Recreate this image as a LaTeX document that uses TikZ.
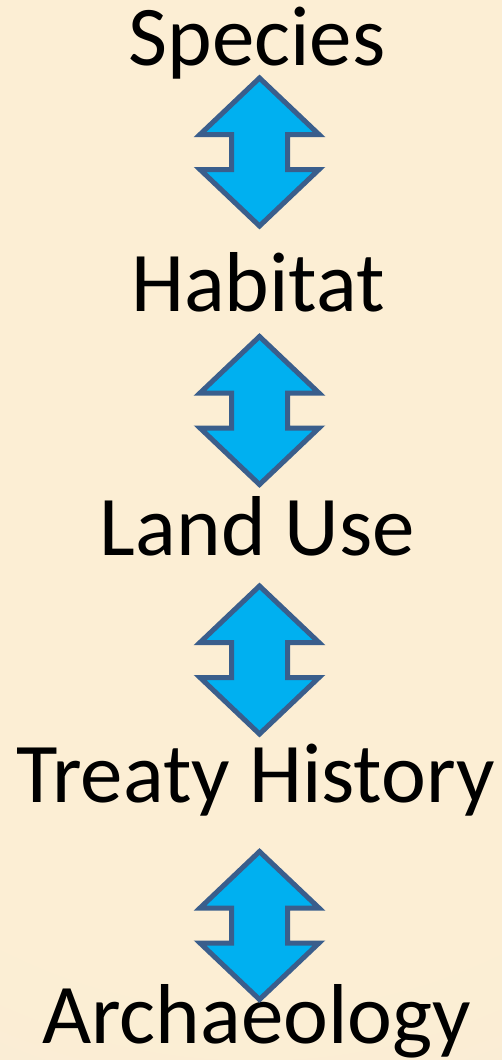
\documentclass[tikz,border=0pt]{standalone}
\usepackage{fontspec}
\setmainfont{Carlito}
\definecolor{bginner}{HTML}{FCEED4}
\definecolor{bgouter}{HTML}{F1E9D8}
\definecolor{arrowfill}{HTML}{00B0F0}
\definecolor{arrowline}{HTML}{3A5E8C}
\pgfdeclareradialshading{bgshade}{\pgfpoint{0bp}{0bp}}{color(0bp)=(bginner); color(18bp)=(bginner); color(50bp)=(bgouter)}
\tikzset{
  label/.style={anchor=base, inner sep=0pt, font=\fontsize{85pt}{92pt}\selectfont, text=black},
  updown/.style={fill=arrowfill, draw=arrowline, line width=5pt, line join=miter}
}
\begin{document}
\begin{tikzpicture}[x=1pt,y=-1pt]
\useasboundingbox (0,0) rectangle (502,1060);
\fill[bgouter] (0,0) rectangle (502,1060);
\begin{scope}
\clip (0,0) rectangle (502,1060);
\shade[shading=bgshade] (255,450) circle[radius=720];
\end{scope}
% labels
\node[label] (species) at (257,65) {Species};
\node[label] (habitat) at (258,311) {Habitat};
\node[label] (landuse) at (257.5,555) {Land Use};
\node[label] (treaty) at (255.5,802) {Treaty History};
\node[label] (arch) at (256.5,1043) {Archaeology};
% arrow centres
\coordinate (a1) at (259.5,152);
\coordinate (a2) at (259.5,410.5);
\coordinate (a3) at (259.5,660);
\coordinate (a4) at (259.5,925.5);
\foreach \c in {a1,a2,a3,a4}{
  \draw[updown, shift={(\c)}] (0,-74) -- (59.5,-17.5) -- (28,-17.5) -- (28,17.5) -- (59.5,17.5)
     -- (0,74) -- (-59.5,17.5) -- (-28,17.5) -- (-28,-17.5) -- (-59.5,-17.5) -- cycle;
}
\end{tikzpicture}
\end{document}
